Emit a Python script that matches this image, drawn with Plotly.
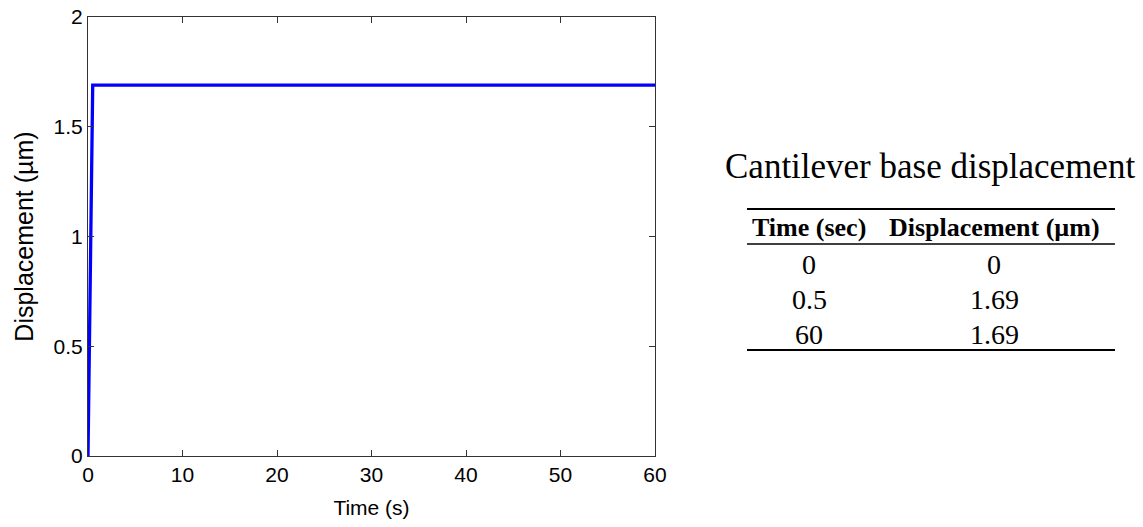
import plotly.graph_objects as go

time_s = [0, 0.5, 60]
disp_um = [0, 1.69, 1.69]

table_title = "Cantilever base displacement"
table_headers = ["Time (sec)", "Displacement (µm)"]
table_time = ["0", "0.5", "60"]
table_disp = ["0", "1.69", "1.69"]

W, H = 1143, 527
L, R, T, B = 88, 655, 17, 456  # plot area in window pixels


def px(X):
    return (X - L) / (R - L)


def py(Y):
    return (B - Y) / (B - T)


fig = go.Figure()
fig.add_trace(go.Scatter(x=time_s, y=disp_um, mode="lines",
                         line=dict(color="#0000ff", width=3.3), showlegend=False))

sans = "Liberation Sans, Arial, sans-serif"
axis_common = dict(showgrid=False, zeroline=False, showline=True, linecolor="#333333",
                   linewidth=1.2, mirror="ticks", ticks="inside", ticklen=6, automargin=False,
                   ticklabeloverflow="allow",
                   tickcolor="#333333", tickfont=dict(family=sans, size=21, color="#000"))

fig.update_layout(
    width=W, height=H, plot_bgcolor="white", paper_bgcolor="white",
    margin=dict(l=L, r=W - R, t=T, b=H - B),
    xaxis=dict(range=[0, 60], tickvals=[0, 10, 20, 30, 40, 50, 60],
               title=dict(text="Time (s)", font=dict(family=sans, size=21, color="#000"), standoff=15),
               **axis_common),
    yaxis=dict(range=[0, 2], tickvals=[0, 0.5, 1, 1.5, 2], ticktext=["0", "0.5", "1", "1.5", "2"],
               title=dict(text="Displacement (µm)", font=dict(family=sans, size=25, color="#000"), standoff=12),
               **axis_common),
)

serif = "Liberation Serif, Times New Roman, serif"
ann = []
ann.append(dict(x=px(930), y=py(166), xref="paper", yref="paper", text=table_title, showarrow=False,
                font=dict(family=serif, size=35, color="#000"), xanchor="center", yanchor="middle"))
col_x = [809, 994]
for cx, h in zip(col_x, table_headers):
    ann.append(dict(x=px(cx), y=py(228), xref="paper", yref="paper", text="<b>" + h + "</b>", showarrow=False,
                    font=dict(family=serif, size=26, color="#000"), xanchor="center", yanchor="middle"))
row_y = [264, 299, 334]
for ry, t, d in zip(row_y, table_time, table_disp):
    ann.append(dict(x=px(col_x[0]), y=py(ry), xref="paper", yref="paper", text=t, showarrow=False,
                    font=dict(family=serif, size=28, color="#000"), xanchor="center", yanchor="middle"))
    ann.append(dict(x=px(col_x[1]), y=py(ry), xref="paper", yref="paper", text=d, showarrow=False,
                    font=dict(family=serif, size=28, color="#000"), xanchor="center", yanchor="middle"))
fig.update_layout(annotations=ann)

shapes = []
for yy, w in [(209, 2), (244, 1.5), (350, 2)]:
    shapes.append(dict(type="line", xref="paper", yref="paper", x0=px(747), x1=px(1115),
                       y0=py(yy), y1=py(yy), line=dict(color="#000", width=w)))
fig.update_layout(shapes=shapes)

fig.write_html("out.html", config={"displayModeBar": False},
               post_script="document.body.style.margin='0px';document.body.style.overflow='hidden';")
